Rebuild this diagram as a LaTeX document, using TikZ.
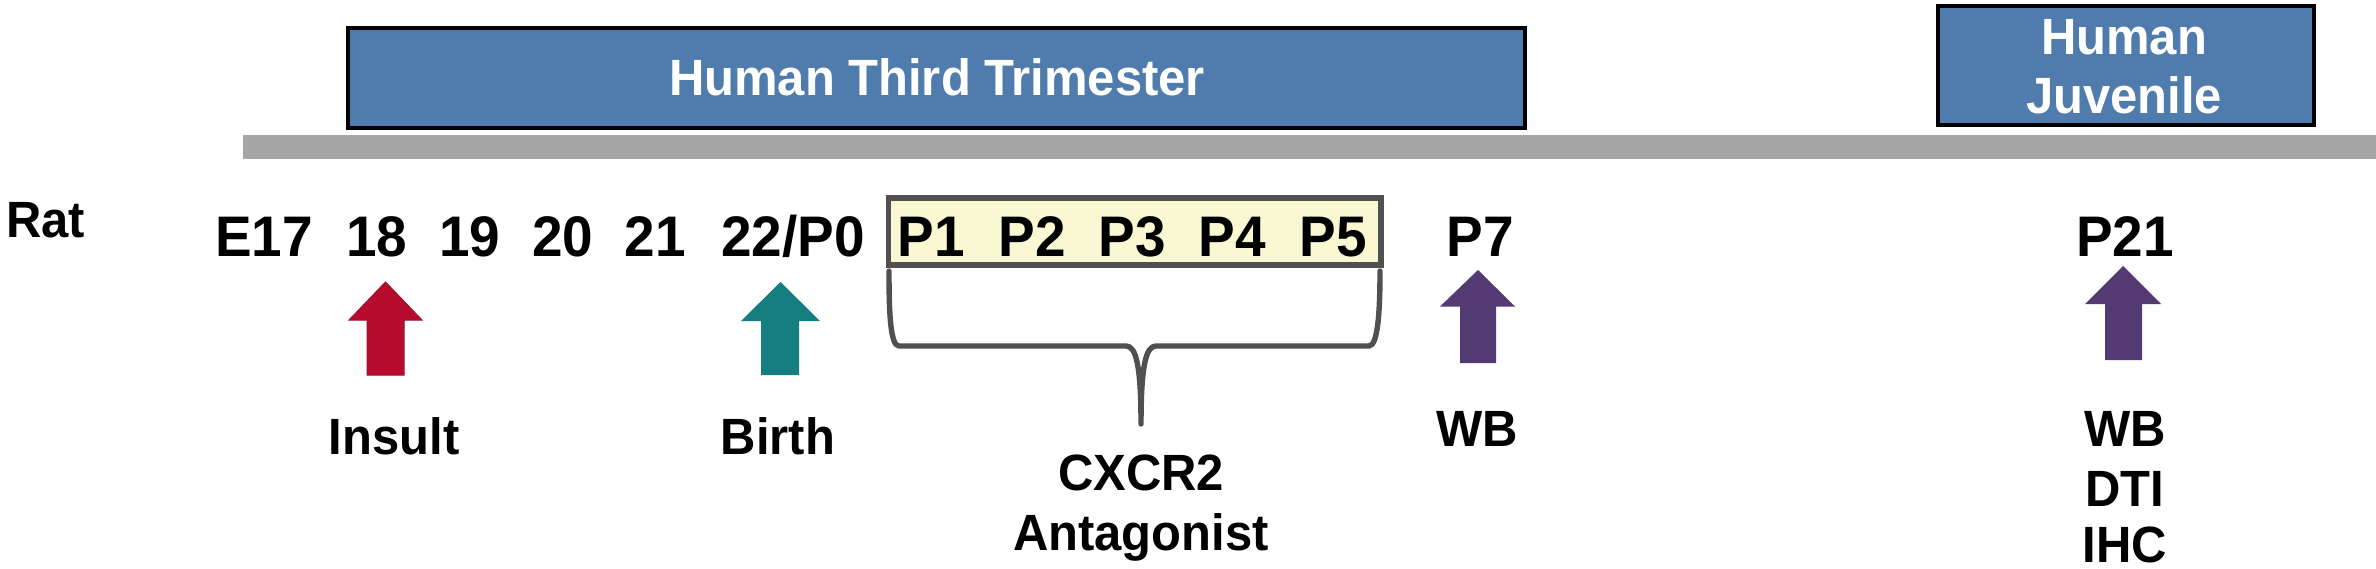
\documentclass[tikz,border=0pt]{standalone}
\usepackage{fontspec}
\setmainfont{Liberation Sans}[BoldFont={Liberation Sans Bold},BoldFeatures={FakeStretch=0.96}]
\definecolor{bandblue}{HTML}{4F7CAC}
\definecolor{bargray}{HTML}{A6A6A6}
\definecolor{dayyellow}{HTML}{F9F8D2}
\definecolor{framegray}{HTML}{505050}
\definecolor{insultred}{HTML}{B80C2F}
\definecolor{insultedge}{HTML}{9E1030}
\definecolor{birthteal}{HTML}{157E80}
\definecolor{wbpurple}{HTML}{533A73}
\tikzset{
  x=0.5pt,y=-0.5pt,
  lab/.style={anchor=base,inner sep=0pt,font=\bfseries\fontsize{25.5}{30}\selectfont,text=black},
  day/.style={anchor=base,inner sep=0pt,font=\bfseries\fontsize{28.6}{34}\selectfont,text=black},
  head/.style={anchor=base,inner sep=0pt,font=\bfseries\fontsize{25.5}{30}\selectfont,text=white},
  band/.style={draw=black,fill=bandblue,line width=1.6pt},
  brace/.style={draw=framegray,line width=2.7pt,line cap=round,line join=round},
  arrowshape/.style={line width=0.5pt}
}
\begin{document}
\begin{tikzpicture}
\useasboundingbox (0,0) rectangle (2376,568);
\fill[white] (0,0) rectangle (2376,568);
% bands
\draw[band] (348,28) rectangle (1525,128);
\draw[band] (1938,6) rectangle (2314,125);
\fill[bargray] (243,135) rectangle (2376,159);
\node[head] (third) at (937,95) {Human Third Trimester};
\node[head] (juv1) at (2124,54) {Human};
\node[head] (juv2) at (2124,113) {Juvenile};
% rat row
\node[lab,anchor=base west] (rat) at (6,237) {Rat};
\node[day] (e17) at (264,256.5) {E17};
\node[day] (d18) at (377,256.5) {18};
\node[day] (d19) at (470,256.5) {19};
\node[day] (d20) at (563,256.5) {20};
\node[day] (d21) at (655,256.5) {21};
\node[day] (d22) at (793,256.5) {22/P0};
% yellow frame
\draw[draw=framegray,fill=dayyellow,line width=2.7pt] (888.5,198) rectangle (1381,265);
\node[day] (p1) at (931,256.5) {P1};
\node[day] (p2) at (1032,256.5) {P2};
\node[day] (p3) at (1132,256.5) {P3};
\node[day] (p4) at (1232,256.5) {P4};
\node[day] (p5) at (1333,256.5) {P5};
\node[day] (p7) at (1480,256.5) {P7};
\node[day] (p21) at (2125,256.5) {P21};
% brace
\draw[brace] (889,271) .. controls (889,310) and (890,346) .. (899,346) -- (1126,346)
  .. controls (1136,346) and (1141,365) .. (1141,424)
  .. controls (1141,365) and (1146,346) .. (1156,346) -- (1369,346)
  .. controls (1378,346) and (1380,310) .. (1380,271);
% arrows
\draw[arrowshape,draw=insultedge,fill=insultred] (385.5,282) -- (422,320) -- (404,320) -- (404,375) -- (367,375) -- (367,320) -- (349,320) -- cycle;
\fill[birthteal] (780.5,282) -- (820,321) -- (799,321) -- (799,375) -- (761,375) -- (761,321) -- (741,321) -- cycle;
\fill[wbpurple] (1478,270) -- (1515,306.5) -- (1496,306.5) -- (1496,363) -- (1460,363) -- (1460,306.5) -- (1440,306.5) -- cycle;
\fill[wbpurple] (2123,266) -- (2161,304) -- (2142,304) -- (2142,360) -- (2105,360) -- (2105,304) -- (2085,304) -- cycle;
% lower labels
\node[lab] (insult) at (394,454) {Insult};
\node[lab] (birth) at (778,454) {Birth};
\node[lab] (cxcr) at (1141,490) {CXCR2};
\node[lab] (antag) at (1141,550) {Antagonist};
\node[lab] (wb7) at (1477,446) {WB};
\node[lab] (wb21) at (2125,446) {WB};
\node[lab] (dti) at (2125,506.5) {DTI};
\node[lab] (ihc) at (2125,562) {IHC};
\end{tikzpicture}
\end{document}
